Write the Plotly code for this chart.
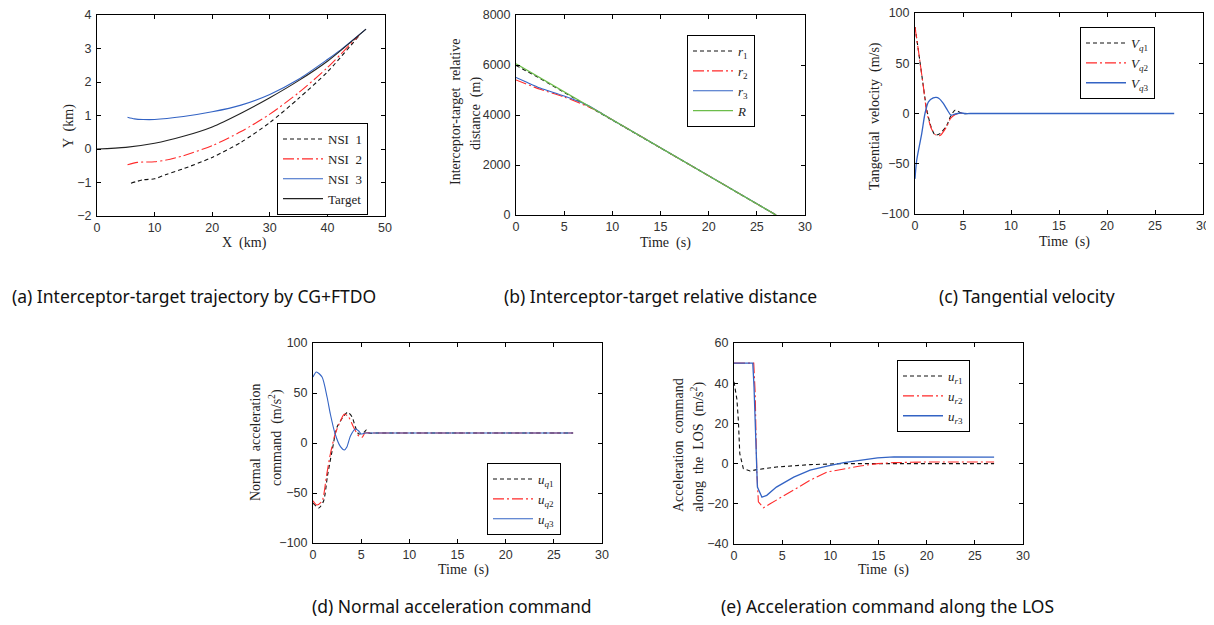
import plotly.graph_objects as go

# page body has an 8px margin: the figure is sized to fit inside the window
OFF = 8
W, H = 1214 - 2 * OFF, 625 - 2 * OFF

# ---------------- data ----------------
# (a) trajectories (km)
a_target_x = [0, 5, 10, 15, 20, 25, 30, 35, 40, 46.7]
a_target_y = [0, 0.05, 0.17, 0.38, 0.66, 1.07, 1.53, 2.04, 2.62, 3.58]
a_nsi3_x = [5.3, 6.5, 8, 10, 15, 20, 25, 30, 35, 40, 42, 46.7]
a_nsi3_y = [0.95, 0.90, 0.88, 0.88, 0.97, 1.11, 1.31, 1.63, 2.08, 2.67, 2.92, 3.58]
a_nsi2_x = [5.3, 7, 10, 12, 15, 20, 25, 30, 35, 40, 45.5]
a_nsi2_y = [-0.47, -0.40, -0.38, -0.33, -0.20, 0.10, 0.52, 1.04, 1.68, 2.43, 3.40]
a_nsi1_x = [5.9, 8, 10, 12, 15, 20, 25, 30, 35, 40, 45.5]
a_nsi1_y = [-1.02, -0.92, -0.89, -0.76, -0.59, -0.25, 0.20, 0.79, 1.51, 2.30, 3.38]

# (b) relative distance (m)
b_R_t = [0, 5, 10, 15, 20, 25, 27]
b_R = [6050, 4930, 3810, 2690, 1570, 450, 0]
b_r1_t = [0, 2, 5, 10, 27]
b_r1 = [5980, 5570, 4900, 3800, 0]
b_r2_t = [0, 1, 2.5, 5, 7.5, 8.5, 10, 27]
b_r2 = [5400, 5250, 5030, 4720, 4330, 4150, 3810, 0]
b_r3_t = [0, 1, 2.5, 5, 7.5, 9.5, 27]
b_r3 = [5500, 5330, 5080, 4760, 4380, 3920, 0]

# (c) tangential velocity (m/s)
c_t12 = [0, 0.35, 0.87, 1.2, 1.7, 2.1, 2.6, 3.3, 3.7, 4.2, 4.7, 5.0, 6.0, 8.0, 27]
c_v1 = [86, 63, 27, 5, -14, -21.5, -20, -12, -3, 3.5, 1, 0, 0, 0, 0]
c_v2 = [86, 63, 27, 3, -15, -21, -22, -13, -5, -1, 0.5, 0, 0, 0, 0]
c_t3 = [0, 0.17, 0.7, 1.04, 1.4, 1.9, 2.2, 2.5, 2.95, 3.4, 3.75, 4.2, 4.8, 5.2, 6.0, 8.0, 27]
c_v3 = [-65, -47, -20, 0, 11.6, 15.5, 16, 15, 10, 3, -1.7, -0.5, 0.5, 0, 0, 0, 0]

# (d) normal acceleration command (m/s^2)
d_t1 = [0, 0.6, 1.1, 1.5, 1.98, 2.5, 3.2, 3.6, 4.06, 4.4, 4.75, 5.3, 5.55, 5.8, 6.5, 8.0, 27]
d_u1 = [-60, -65, -58, -33, -8, 16, 27, 30.7, 26, 16, 9, 10.7, 13, 10, 10, 10, 10]
d_t2 = [0, 0.4, 0.94, 1.4, 1.8, 2.3, 2.85, 3.26, 3.7, 4.2, 4.75, 5.1, 5.4, 6.0, 8.0, 27]
d_u2 = [-57.7, -62, -58, -33, -11, 9, 22, 29, 26, 16, 7, 5.7, 10, 10, 10, 10]
d_t3 = [0, 0.35, 0.94, 1.46, 1.8, 2.3, 2.85, 3.26, 3.5, 3.9, 4.4, 4.75, 5.0, 5.4, 6.0, 8.0, 27]
d_u3 = [66, 71, 66, 46, 29, 9, -3.7, -7, -4.3, 7.3, 14, 12, 9, 10, 10, 10, 10]

# (e) acceleration command along the LOS (m/s^2)
e_t1 = [0, 0.3, 0.45, 0.6, 0.97, 1.67, 2.36, 4.4, 7.9, 11.4, 27]
e_u1 = [40.7, 32, 21.7, 5, -2.5, -3.7, -3, -1.7, -0.5, 0, 0]
e_t2 = [0, 2.05, 2.2, 2.36, 2.53, 3.05, 3.75, 5.5, 7.9, 9.65, 11.4, 13.1, 14.9, 16.6, 20, 27]
e_u2 = [50, 50, 35, -3.3, -19, -22, -20, -15, -8.3, -4.2, -2.5, -1.2, 0, 0.5, 0.8, 0.8]
e_t3 = [0, 1.95, 2.08, 2.3, 2.43, 2.9, 3.4, 4.4, 6.2, 7.9, 9.65, 11.4, 13.1, 14.9, 16.6, 27]
e_u3 = [50, 50, 38, 1.7, -11.7, -16.7, -15.8, -11.7, -6.7, -3.3, -1.2, 0.5, 1.7, 2.8, 3.3, 3.2]

captions = ["(a) Interceptor-target trajectory by CG+FTDO",
            "(b) Interceptor-target relative distance",
            "(c) Tangential velocity",
            "(d) Normal acceleration command",
            "(e) Acceleration command along the LOS"]

# ---------------- styles ----------------
BLACK = "#111111"
RED = "#ff2a2a"
BLUE = "#3363c4"
GREEN = "#6cbd4a"
DASH_K = "4px,3px"
DASH_R = "11px,3px,2px,3px"
SERIF = "Liberation Serif"
SANS = "Liberation Sans"


def px_x(p):
    return (p - OFF) / W


def px_y(p):
    return 1 - (p - OFF) / H


fig = go.Figure()


def add(x, y, name, color, dash, xa, ya, leg, shape="spline", width=1.1):
    fig.add_trace(go.Scatter(
        x=x, y=y, name=name, mode="lines",
        line=dict(color=color, dash=dash, width=width, shape=shape,
                  smoothing=0.7 if shape == "spline" else None),
        xaxis=xa, yaxis=ya, legend=leg))


# (a)
add(a_nsi1_x, a_nsi1_y, "NSI  1", BLACK, DASH_K, "x", "y", "legend")
add(a_nsi2_x, a_nsi2_y, "NSI  2", RED, DASH_R, "x", "y", "legend")
add(a_nsi3_x, a_nsi3_y, "NSI  3", BLUE, "solid", "x", "y", "legend")
add(a_target_x, a_target_y, "Target", "#222222", "solid", "x", "y", "legend")
# (b)
add(b_r1_t, b_r1, "<i>r</i><sub>1</sub>", BLACK, DASH_K, "x2", "y2", "legend2", "linear")
add(b_r2_t, b_r2, "<i>r</i><sub>2</sub>", RED, DASH_R, "x2", "y2", "legend2")
add(b_r3_t, b_r3, "<i>r</i><sub>3</sub>", BLUE, "solid", "x2", "y2", "legend2")
add(b_R_t, b_R, "<i>R</i>", GREEN, "solid", "x2", "y2", "legend2", "linear", 1.4)
# (c)
add(c_t12, c_v1, "<i>V</i><sub><i>q</i>1</sub>", BLACK, DASH_K, "x3", "y3", "legend3")
add(c_t12, c_v2, "<i>V</i><sub><i>q</i>2</sub>", RED, DASH_R, "x3", "y3", "legend3")
add(c_t3, c_v3, "<i>V</i><sub><i>q</i>3</sub>", BLUE, "solid", "x3", "y3", "legend3", "spline", 1.3)
# (d)
add(d_t1, d_u1, "<i>u</i><sub><i>q</i>1</sub>", BLACK, DASH_K, "x4", "y4", "legend4")
add(d_t2, d_u2, "<i>u</i><sub><i>q</i>2</sub>", RED, DASH_R, "x4", "y4", "legend4")
add(d_t3, d_u3, "<i>u</i><sub><i>q</i>3</sub>", BLUE, "solid", "x4", "y4", "legend4")
# (e)
add(e_t1, e_u1, "<i>u</i><sub><i>r</i>1</sub>", BLACK, DASH_K, "x5", "y5", "legend5", "linear")
add(e_t2, e_u2, "<i>u</i><sub><i>r</i>2</sub>", RED, DASH_R, "x5", "y5", "legend5", "linear")
add(e_t3, e_u3, "<i>u</i><sub><i>r</i>3</sub>", BLUE, "solid", "x5", "y5", "legend5", "linear", 1.3)

# axes: (left, right, top, bottom) in window px, x range, x dtick, y range, y dtick
panels = [
    ((97, 385, 15, 216), [0, 50], 10, [-2, 4], 1),
    ((516, 805, 15, 215), [0, 30], 5, [0, 8000], 2000),
    ((915, 1203, 13, 214), [0, 30], 5, [-100, 100], 50),
    ((313, 602, 343, 543), [0, 30], 5, [-100, 100], 50),
    ((734, 1023, 343, 544), [0, 30], 5, [-40, 60], 20),
]

axis_common = dict(showline=True, linecolor="black", linewidth=1, mirror="ticks",
                   ticks="inside", ticklen=4, tickcolor="black", showgrid=False,
                   zeroline=False, automargin=False, ticklabeloverflow="allow",
                   tickfont=dict(family=SANS, size=12.5, color="#333333"))

layout = {}
for i, ((l, r, t, b), xr, xd, yr, yd) in enumerate(panels, start=1):
    sx = "" if i == 1 else str(i)
    layout["xaxis" + sx] = dict(domain=[px_x(l), px_x(r)], range=xr, dtick=xd,
                                anchor="y" + sx, ticklabelstandoff=0, **axis_common)
    layout["yaxis" + sx] = dict(domain=[px_y(b), px_y(t)], range=yr, dtick=yd,
                                anchor="x" + sx, ticklabelstandoff=2, **axis_common)

fig.update_layout(**layout)

# legends
leg_common = dict(bgcolor="white", bordercolor="black", borderwidth=1,
                  font=dict(family=SERIF, size=13, color="#222222"),
                  xanchor="left", yanchor="top", tracegroupgap=0,
                  itemwidth=40, itemclick=False)
leg_pos = {"legend": (277, 123), "legend2": (687, 35), "legend3": (1080, 27),
           "legend4": (487, 463), "legend5": (897, 360)}
for k, (lx, ly) in leg_pos.items():
    fig.update_layout({k: dict(x=px_x(lx), y=px_y(ly), **leg_common)})

annotations = []


def ann(text, x, y, angle=0, size=14, family=SERIF, color="#222222"):
    annotations.append(dict(text=text, x=px_x(x), y=px_y(y), xref="paper", yref="paper",
                            showarrow=False, textangle=angle, xanchor="center",
                            yanchor="middle", font=dict(family=family, size=size, color=color)))


# axis titles
ann("X  (km)", 244, 243)
ann("Y  (km)", 69, 126, -90)
ann("Time  (s)", 665, 243)
ann("Interceptor-target  relative", 455, 112, -90)
ann("distance  (m)", 476, 114, -90)
ann("Time  (s)", 1064, 242)
ann("Tangential  velocity  (m/s)", 875, 116, -90)
ann("Time  (s)", 463, 570)
ann("Normal  acceleration", 255, 443, -90)
ann("command  (m/s<sup>2</sup>)", 275, 438, -90)
ann("Time  (s)", 883, 570)
ann("Acceleration  command", 678, 445, -90)
ann("along  the  LOS  (m/s<sup>2</sup>)", 697, 447, -90)

# captions
cap_pos = [(194, 296), (660, 296), (1027, 296), (452, 606), (887, 606)]
for txt, (cx, cy) in zip(captions, cap_pos):
    ann(txt, cx, cy, 0, 17.5, "Noto Sans", "#111111")

fig.update_layout(template="none", annotations=annotations, width=W, height=H,
                  margin=dict(l=0, r=0, t=0, b=0, autoexpand=False), paper_bgcolor="white",
                  plot_bgcolor="white", showlegend=True)

fig.write_html("out.html")
